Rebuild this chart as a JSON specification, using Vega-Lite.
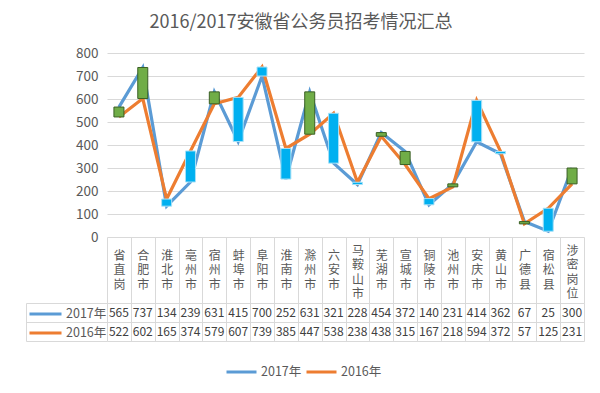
{
  "$schema": "https://vega.github.io/schema/vega-lite/v6.json",
  "padding": {"left": 25, "top": 14, "right": 5, "bottom": 5},
  "background": "white",
  "bounds": "flush",
  "config": {"font": "Noto Sans CJK SC", "view": {"stroke": null}},
  "title": {"text": "2016/2017安徽省公务员招考情况汇总", "fontSize": 18, "fontWeight": "normal", "color": "#595959", "anchor": "middle", "offset": 14, "dx": -4},
  "datasets": {
    "d": [
      {"城市": "省直岗", "2017年": 565, "2016年": 522},
      {"城市": "合肥市", "2017年": 737, "2016年": 602},
      {"城市": "淮北市", "2017年": 134, "2016年": 165},
      {"城市": "亳州市", "2017年": 239, "2016年": 374},
      {"城市": "宿州市", "2017年": 631, "2016年": 579},
      {"城市": "蚌埠市", "2017年": 415, "2016年": 607},
      {"城市": "阜阳市", "2017年": 700, "2016年": 739},
      {"城市": "淮南市", "2017年": 252, "2016年": 385},
      {"城市": "滁州市", "2017年": 631, "2016年": 447},
      {"城市": "六安市", "2017年": 321, "2016年": 538},
      {"城市": "马鞍山市", "2017年": 228, "2016年": 238},
      {"城市": "芜湖市", "2017年": 454, "2016年": 438},
      {"城市": "宣城市", "2017年": 372, "2016年": 315},
      {"城市": "铜陵市", "2017年": 140, "2016年": 167},
      {"城市": "池州市", "2017年": 231, "2016年": 218},
      {"城市": "安庆市", "2017年": 414, "2016年": 594},
      {"城市": "黄山市", "2017年": 362, "2016年": 372},
      {"城市": "广德县", "2017年": 67, "2016年": 57},
      {"城市": "宿松县", "2017年": 25, "2016年": 125},
      {"城市": "涉密岗位", "2017年": 300, "2016年": 231}
    ]
  },
  "spacing": 66,
  "resolve": {"scale": {"color": "independent", "stroke": "independent", "x": "independent", "y": "independent"}, "legend": {"color": "independent", "stroke": "independent"}},
  "vconcat": [
    {
      "width": 477,
      "height": 184,
      "data": {"name": "d"},
      "layer": [
        {
          "transform": [{"fold": ["2017年", "2016年"], "as": ["series", "value"]}],
          "mark": {"type": "line", "strokeWidth": 3.2},
          "encoding": {
            "x": {
              "field": "城市", "type": "nominal", "sort": null,
              "scale": {"paddingInner": 0, "paddingOuter": 0},
              "axis": {"title": null, "labelExpr": "split(datum.label, '')", "labelAngle": 0, "labelAlign": "center", "labelBaseline": {"condition": {"test": "length(datum.label) > 3", "value": "middle"}, "value": "top"}, "labelPadding": -53, "labelLineHeight": 14.5, "labelFontSize": 12, "labelColor": "#595959", "tickSize": 66, "tickBand": "extent", "tickColor": "#d9d9d9", "domain": false, "grid": false}
            },
            "y": {
              "field": "value", "type": "quantitative",
              "scale": {"domain": [0, 800]},
              "axis": {"title": null, "values": [0, 100, 200, 300, 400, 500, 600, 700, 800], "grid": true, "gridColor": "#d9d9d9", "domain": false, "ticks": false, "labelPadding": 9, "labelFontSize": 13.5, "labelColor": "#595959"}
            },
            "color": {
              "field": "series", "type": "nominal",
              "scale": {"domain": ["2017年", "2016年"], "range": ["#5B9BD5", "#ED7D31"]},
              "legend": {"title": null, "orient": "none", "legendX": 118, "legendY": 309.5, "direction": "horizontal", "symbolType": "stroke", "symbolSize": 900, "symbolStrokeWidth": 3, "symbolOpacity": 1, "labelFontSize": 12.5, "labelColor": "#595959", "labelOffset": 3, "columnPadding": 3, "clipHeight": 19}
            }
          }
        },
        {
          "mark": {"type": "bar", "size": 10, "strokeWidth": 1},
          "encoding": {
            "x": {"field": "城市", "type": "nominal", "sort": null, "axis": {"title": null, "labelExpr": "split(datum.label, '')", "labelAngle": 0, "labelAlign": "center", "labelBaseline": {"condition": {"test": "length(datum.label) > 3", "value": "middle"}, "value": "top"}, "labelPadding": -53, "labelLineHeight": 14.5, "labelFontSize": 12, "labelColor": "#595959", "tickSize": 66, "tickBand": "extent", "tickColor": "#d9d9d9", "domain": false, "grid": false}},
            "y": {"field": "2017年", "type": "quantitative", "axis": {"title": null, "values": [0, 100, 200, 300, 400, 500, 600, 700, 800], "grid": true, "gridColor": "#d9d9d9", "domain": false, "ticks": false, "labelPadding": 9, "labelFontSize": 13.5, "labelColor": "#595959"}},
            "y2": {"field": "2016年"},
            "fill": {"condition": {"test": "datum['2017年'] > datum['2016年']", "value": "#70AD47"}, "value": "#00B0F0"},
            "stroke": {"condition": {"test": "datum['2017年'] > datum['2016年']", "value": "#3A5F24"}, "value": "#A8E1F7"}
          }
        }
      ]
    },
    {
      "width": 477,
      "height": 38,
      "data": {"name": "d"},
      "transform": [{"fold": ["2017年", "2016年"], "as": ["series", "value"]}],
      "encoding": {
        "y": {
          "field": "series", "type": "nominal", "sort": ["2017年", "2016年"],
          "scale": {"paddingInner": 0, "paddingOuter": 0},
          "axis": {"title": null, "labels": false, "tickSize": -81, "offset": 81, "tickBand": "extent", "tickColor": "#d9d9d9", "domainColor": "#d9d9d9", "grid": true, "gridColor": "#d9d9d9"}
        }
      },
      "layer": [
        {
          "mark": {"type": "text", "fontSize": 12, "color": "#404040"},
          "encoding": {
            "x": {
              "field": "城市", "type": "nominal", "sort": null,
              "scale": {"paddingInner": 0, "paddingOuter": 0},
              "axis": {"title": null, "labels": false, "ticks": false, "domain": false, "grid": true, "gridColor": "#d9d9d9", "tickBand": "extent"}
            },
            "text": {"field": "value", "type": "quantitative"}
          }
        },
        {
          "mark": {"type": "rule", "opacity": 0, "strokeWidth": 3},
          "encoding": {
            "stroke": {
              "field": "series", "type": "nominal",
              "scale": {"domain": ["2017年", "2016年"], "range": ["#5B9BD5", "#ED7D31"]},
              "legend": {"title": null, "orient": "none", "legendX": -79, "legendY": 1.5, "direction": "vertical", "symbolType": "stroke", "symbolSize": 1024, "symbolStrokeWidth": 3, "symbolOpacity": 1, "labelFontSize": 12.5, "labelColor": "#595959", "labelOffset": 3, "rowPadding": 0, "clipHeight": 19}
            }
          }
        }
      ]
    }
  ]
}
